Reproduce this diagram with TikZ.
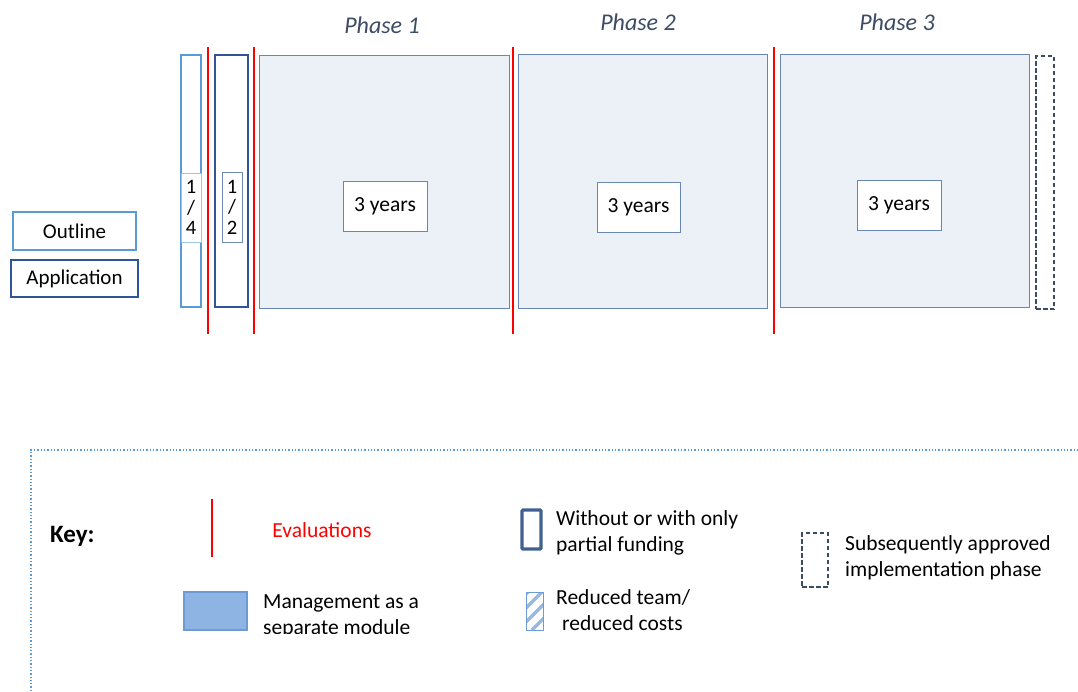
\documentclass[tikz,border=0pt]{standalone}
\usepackage{fontspec}
\setmainfont{Carlito}
\usetikzlibrary{calc}
\definecolor{lightb}{RGB}{91,155,213}
\definecolor{lightb2}{RGB}{157,195,230}
\definecolor{darkb}{RGB}{47,85,151}
\definecolor{midb}{RGB}{111,137,176}
\definecolor{phasefill}{RGB}{236,241,248}
\definecolor{phaseline}{RGB}{105,135,180}
\definecolor{slate}{RGB}{60,76,100}
\definecolor{mgmtfill}{RGB}{142,180,227}
\definecolor{mgmtline}{RGB}{108,155,214}
\definecolor{hatchc}{RGB}{150,185,225}
\definecolor{keyb}{RGB}{65,96,143}
\tikzset{
  box/.style={draw, inner sep=0pt, outer sep=0pt},
  phasebox/.style={box, draw=phaseline, fill=phasefill, line width=1pt},
  yearbox/.style={box, draw=phaseline, fill=white, line width=1pt, font=\fontsize{21.5}{25}\selectfont},
  evalline/.style={draw=red, line width=2.8pt},
  phaselabel/.style={font=\fontsize{24}{28}\selectfont\itshape, text=slate},
  fracbox/.style={box, fill=white, font=\fontsize{20.5}{20.5}\selectfont, align=center},
  keytext/.style={font=\fontsize{21.5}{26}\selectfont, align=left, anchor=west, inner sep=0pt},
  dashbox/.style={box, draw=slate, dashed, dash pattern=on 4.5pt off 2.5pt, line width=2.8pt},
}
\begin{document}
\begin{tikzpicture}[x=1pt, y=-1pt]
\useasboundingbox (0,0) rectangle (1078,691);
% left labels
\node[box, draw=lightb, line width=2.6pt, minimum width=123pt, minimum height=38pt, font=\fontsize{21}{24}\selectfont] (outlineL) at (74.5,231) {Outline};
\node[box, draw=darkb, line width=2.8pt, minimum width=127pt, minimum height=37pt, font=\fontsize{21}{24}\selectfont] (appL) at (74.5,278.5) {Application};
% outline / application bars
\node[box, draw=lightb, line width=2.6pt, minimum width=20pt, minimum height=252pt] (outlineBar) at (191,181) {};
\node[fracbox, draw=lightb2, line width=1pt, minimum width=20pt, minimum height=69pt] (q14) at (191,207.5) {1\\/\\4};
\node[box, draw=darkb, line width=2.8pt, minimum width=33pt, minimum height=252pt] (appBar) at (231.5,181) {};
\node[fracbox, draw=midb, line width=1pt, minimum width=20pt, minimum height=70pt] (q12) at (232,207) {1\\/\\2};
% phases
\node[phasebox, minimum width=250pt, minimum height=253pt] (p1) at (384,181.5) {};
\node[phasebox, minimum width=249pt, minimum height=254pt] (p2) at (642.5,181) {};
\node[phasebox, minimum width=249pt, minimum height=253pt] (p3) at (904.5,180.5) {};
\node[dashbox, minimum width=18pt, minimum height=253pt] (dashBar) at (1045,182.5) {};
\node[yearbox, minimum width=84pt, minimum height=50pt] (y1) at (385,206) {3 years};
\node[yearbox, minimum width=83pt, minimum height=50pt] (y2) at (638.5,207) {3 years};
\node[yearbox, minimum width=84pt, minimum height=50pt] (y3) at (899,205) {3 years};
\node[phaselabel] (ph1) at (382,25) {Phase 1};
\node[phaselabel] (ph2) at (638,22) {Phase 2};
\node[phaselabel] (ph3) at (897,22) {Phase 3};
% evaluation lines
\coordinate (e1t) at (208,47); \coordinate (e1b) at (208,334);
\coordinate (e2t) at (254,47); \coordinate (e2b) at (254,334);
\coordinate (e3t) at (513,47); \coordinate (e3b) at (513,334);
\coordinate (e4t) at (774,47); \coordinate (e4b) at (774,334);
\draw[evalline] (e1t) -- (e1b);
\draw[evalline] (e2t) -- (e2b);
\draw[evalline] (e3t) -- (e3b);
\draw[evalline] (e4t) -- (e4b);
% key frame
\coordinate (kbl) at (31,691); \coordinate (ktl) at (31,450); \coordinate (ktr) at (1078,450);
\draw[lightb, dotted, line width=1.3pt] (kbl) -- (ktl) -- (ktr);
\node[font=\fontsize{25}{28}\selectfont\bfseries, anchor=west, inner sep=0pt] (keyL) at (50,536) {Key:};
\coordinate (kr1) at (212,499); \coordinate (kr2) at (212,557);
\draw[evalline] (kr1) -- (kr2);
\node[font=\fontsize{21.5}{25}\selectfont, text=red] (evalT) at (322,530) {Evaluations};
\node[box, draw=mgmtline, fill=mgmtfill, line width=1.5pt, minimum width=63pt, minimum height=38pt] (mgmt) at (215.5,611) {};
\begin{scope}
\clip (250,580) rectangle (520,633);
\node[keytext] (mgmtT) at (263,616) {Management as a\\separate module};
\end{scope}
\node[box, draw=keyb, line width=3.2pt, minimum width=19pt, minimum height=39pt, rounded corners=1pt] (nofund) at (531.5,529.5) {};
\node[keytext] (nofundT) at (556,533) {Without or with only\\partial funding};
\node[box, draw=mgmtline, fill=white, line width=0.9pt, minimum width=17pt, minimum height=38pt] (hatch) at (534.5,611) {};
\begin{scope}
\clip (hatch.north west) rectangle (hatch.south east);
\foreach \d in {-36,-22,-8,6} {
  \draw[hatchc, line width=3.5pt] ($(hatch.south west)+(\d,0)$) -- ++(40,-40);
}
\end{scope}
\draw[mgmtline, line width=0.9pt] (hatch.north west) rectangle (hatch.south east);
\node[keytext] (hatchT) at (556,610) {Reduced team/\\\hspace{6pt}reduced costs};
\node[dashbox, line width=2.6pt, minimum width=26pt, minimum height=54pt] (subseq) at (815,560) {};
\node[keytext] (subseqT) at (845,558) {Subsequently approved\\implementation phase};
\end{tikzpicture}
\end{document}
